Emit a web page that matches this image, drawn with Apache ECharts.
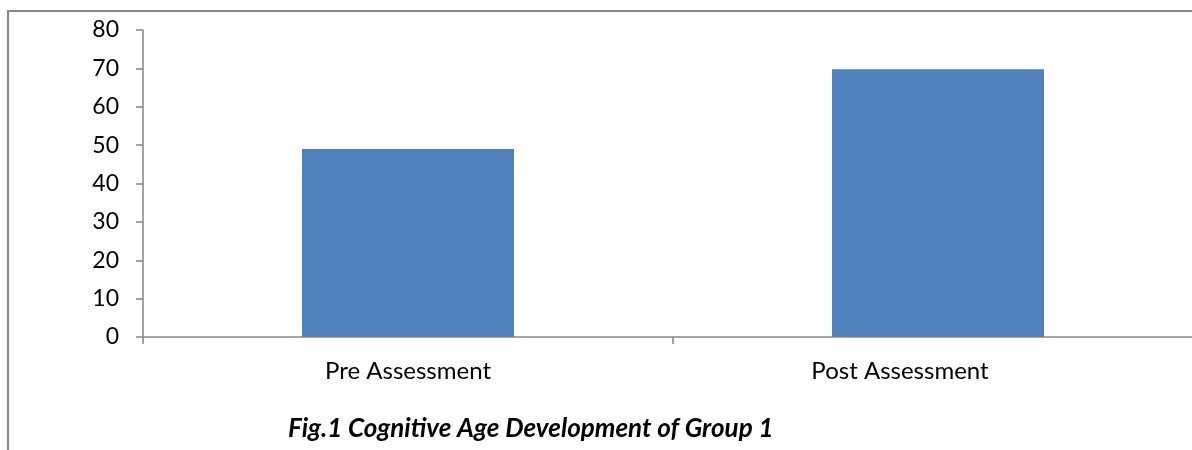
<!DOCTYPE html>
<html lang="en">
<head>
    <meta charset="UTF-8">
    <script src="https://cdn.jsdelivr.net/npm/echarts@6/dist/echarts.min.js"></script>
    <title>Fig.1 Cognitive Age Development of Group 1</title>
    <style>
        html,
        body {
            height: 100%;
            width: 100%;
            padding: 0;
            margin: 0;
            overflow: hidden;
            background: #fff;
        }
        /* a bit wider than the window: the x axis runs past the right edge */
        .my-chart {
            width: 1204px;
            height: 450px;
        }
    </style>
</head>
<body>
<div class="my-chart"></div>
<script>
    var categories = ['Pre Assessment', 'Post Assessment'];
    var scores = [49, 69.8];
    var yTicks = [0, 10, 20, 30, 40, 50, 60, 70, 80];
    var figTitle = 'Fig.1 Cognitive Age Development of Group 1';

    var axisGray = '#868686';
    var font = 'Lato, "Liberation Sans", sans-serif';

    var myChart = echarts.init(document.querySelector('.my-chart'));
    var option = {
        animation: false,
        title: {
            text: figTitle,
            left: 283,
            top: 411,
            textStyle: {
                fontFamily: font,
                fontSize: 26,
                fontWeight: 'bold',
                fontStyle: 'italic',
                color: '#000'
            }
        },
        // outer frame (top + left edges visible)
        graphic: [{
            type: 'rect',
            shape: {x: 8, y: 11, width: 1260, height: 520},
            style: {fill: 'none', stroke: axisGray, lineWidth: 2},
            silent: true
        }],
        grid: {left: 143, top: 30, right: 1, bottom: 113},
        xAxis: {
            type: 'category',
            data: categories,
            axisLine: {lineStyle: {color: axisGray, width: 1.5}},
            axisTick: {show: true, length: 7, lineStyle: {color: axisGray, width: 1.5}},
            axisLabel: {
                margin: 22,
                color: '#000',
                fontFamily: font,
                fontSize: 24,
                formatter: function (v, i) {
                    return i === 1 ? '{post|' + v + '}' : v;
                },
                rich: {
                    post: {fontFamily: font, fontSize: 24, color: '#000', padding: [0, 76, 0, 0]}
                }
            }
        },
        yAxis: {
            type: 'value',
            min: yTicks[0],
            max: yTicks[yTicks.length - 1],
            interval: 10,
            splitLine: {show: false},
            axisLine: {show: true, lineStyle: {color: axisGray, width: 1.5}},
            axisTick: {show: true, length: 7, lineStyle: {color: axisGray, width: 1.5}},
            axisLabel: {margin: 24, color: '#000', fontFamily: font, fontSize: 23}
        },
        series: [{
            type: 'bar',
            data: scores,
            barWidth: 212,
            itemStyle: {color: '#4F81BD'}
        }]
    };
    myChart.setOption(option);
</script>
</body>
</html>
